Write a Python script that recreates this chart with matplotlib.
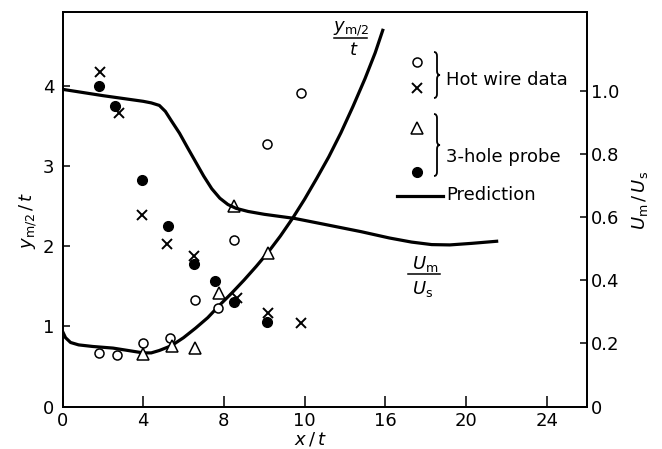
import matplotlib
matplotlib.use("Agg")
import matplotlib.pyplot as plt
from matplotlib.path import Path
from matplotlib.patches import PathPatch
from matplotlib.lines import Line2D

# ---------------- data ----------------
# Hot wire data, y_m/2 / t (open circles)
hw_circ_x = [1.83, 2.72, 4.01, 5.31, 6.58, 7.71, 8.52, 10.14, 11.8]
hw_circ_y = [0.67, 0.64, 0.79, 0.85, 1.33, 1.23, 2.08, 3.28, 3.92]
# Hot wire data, U_m/U_s (crosses) plotted on left scale (4 <-> 1.0)
hw_cross_x = [1.86, 2.82, 3.93, 5.18, 6.50, 8.65, 10.17, 11.83]
hw_cross_y = [4.18, 3.67, 2.39, 2.03, 1.88, 1.36, 1.17, 1.04]
# 3-hole probe, y_m/2 / t (open triangles)
hp_tri_x = [4.01, 5.42, 6.55, 7.74, 8.49, 10.17]
hp_tri_y = [0.65, 0.75, 0.73, 1.42, 2.50, 1.92]
# 3-hole probe, U_m/U_s (filled dots) on left scale
hp_dot_x = [1.83, 2.61, 3.93, 5.21, 6.50, 7.58, 8.49, 10.14]
hp_dot_y = [4.00, 3.76, 2.83, 2.25, 1.78, 1.57, 1.30, 1.05]

# Prediction y_m/2 / t
pred_y_x = [0.0, 0.15, 0.4, 0.8, 1.5, 2.5, 3.5, 4.0, 4.4, 4.8, 5.4, 6.0, 6.6, 7.2, 7.8, 8.4,
            9.0, 9.6, 10.2, 10.8, 11.4, 12.0, 12.6, 13.2, 13.8, 14.4, 15.0, 15.5, 15.9]
pred_y_v = [0.94, 0.86, 0.80, 0.77, 0.75, 0.73, 0.69, 0.67, 0.67, 0.70, 0.76, 0.86, 0.98, 1.11,
            1.27, 1.42, 1.58, 1.75, 1.93, 2.13, 2.35, 2.59, 2.85, 3.12, 3.42, 3.75, 4.10, 4.42, 4.72]
# Prediction U_m / U_s
pred_u_x = [0.0, 2.0, 4.0, 4.4, 4.8, 5.1, 5.4, 5.8, 6.2, 6.6, 7.0, 7.4, 7.8, 8.2, 8.6, 9.2,
            10.0, 11.5, 13.0, 14.8, 16.2, 17.3, 18.3, 19.2, 20.3, 21.6]
pred_u_v = [1.005, 0.985, 0.967, 0.962, 0.954, 0.935, 0.905, 0.866, 0.82, 0.775, 0.73, 0.69,
            0.66, 0.64, 0.628, 0.618, 0.609, 0.596, 0.577, 0.554, 0.534, 0.521, 0.513, 0.512,
            0.517, 0.524]

x_ticks = [0, 4, 8, 12, 16, 20, 24]
x_ticklabels = ["0", "4", "8", "10", "16", "20", "24"]
yl_ticks = [0, 1, 2, 3, 4]
yr_ticks = [0, 0.2, 0.4, 0.6, 0.8, 1.0]
yr_ticklabels = ["0", "0.2", "0.4", "0.6", "0.8", "1.0"]

# ---------------- figure ----------------
W, H = 662, 449
fig = plt.figure(figsize=(W / 100, H / 100), dpi=100)

def fx(px):
    return px / W

def fy(py):
    return 1 - py / H

L, R, T, B = 62.5, 587, 12, 406.5
ax = fig.add_axes([fx(L), fy(B), (R - L) / W, (B - T) / H])
ax2 = ax.twinx()

ax.set_xlim(0, 26)
ax.set_ylim(0, 4.93)
ax2.set_ylim(0, 1.25)

lw = 2.3
ax.plot(pred_y_x, pred_y_v, color="black", lw=lw, solid_capstyle="butt", solid_joinstyle="round")
ax2.plot(pred_u_x, pred_u_v, color="black", lw=lw, solid_capstyle="butt", solid_joinstyle="round")

mew = 1.1
ax.plot(hw_circ_x, hw_circ_y, "o", ms=6.5, mfc="white", mec="black", mew=mew, zorder=5)
ax.plot(hw_cross_x, hw_cross_y, "x", ms=6.5, mec="black", mew=1.4, zorder=5)
ax.plot(hp_tri_x, hp_tri_y, "^", ms=8, mfc="white", mec="black", mew=mew, zorder=5)
ax.plot(hp_dot_x, hp_dot_y, "o", ms=7, mfc="black", mec="black", zorder=5)

fs = 13
ax.set_xticks(x_ticks)
ax.set_xticklabels(x_ticklabels, fontsize=fs)
ax.set_yticks(yl_ticks)
ax.set_yticklabels([str(t) for t in yl_ticks], fontsize=fs)
ax2.set_yticks(yr_ticks)
ax2.set_yticklabels(yr_ticklabels, fontsize=fs)

ax.tick_params(axis="x", direction="in", length=8, width=1.1, pad=4)
ax.tick_params(axis="y", direction="in", length=5, width=1.1, pad=6)
ax2.tick_params(axis="y", direction="in", length=5, width=1.1, pad=3)
for a in (ax, ax2):
    for s in a.spines.values():
        s.set_linewidth(1.3)

fig.text(fx(28), fy(220), r"$y_{\mathrm{m}/2}\,/\,t$", rotation=90, fontsize=fs,
         ha="center", va="center")
fig.text(fx(640), fy(200), r"$U_{\mathrm{m}}\,/\,U_{\mathrm{s}}$", rotation=90, fontsize=fs,
         ha="center", va="center")
fig.text(fx(310), fy(439), r"$x\,/\,t$", fontsize=fs, ha="center", va="center")

# curve labels (fractions)
fig.text(fx(351), fy(29), r"$y_{\mathrm{m}/2}$", fontsize=fs, ha="center", va="center")
fig.add_artist(Line2D([fx(334), fx(367)], [fy(37.5), fy(37.5)], color="black", lw=1.1))
fig.text(fx(354), fy(50), r"$t$", fontsize=fs, ha="center", va="center")

fig.text(fx(425), fy(264), r"$U_{\mathrm{m}}$", fontsize=fs, ha="center", va="center")
fig.add_artist(Line2D([fx(408), fx(440)], [fy(274), fy(274)], color="black", lw=1.1))
fig.text(fx(423), fy(289), r"$U_{\mathrm{s}}$", fontsize=fs, ha="center", va="center")

# ---------------- legend ----------------
lx = 417
fig.add_artist(Line2D([fx(lx)], [fy(62)], marker="o", ms=6.5, mfc="white", mec="black", mew=mew))
fig.add_artist(Line2D([fx(lx)], [fy(88)], marker="x", ms=6.5, mec="black", mew=1.4))
fig.add_artist(Line2D([fx(lx)], [fy(128)], marker="^", ms=8, mfc="white", mec="black", mew=mew))
fig.add_artist(Line2D([fx(lx)], [fy(172)], marker="o", ms=7, mfc="black", mec="black"))

def brace(x, y0, y1, w=6, r=4):
    ym = (y0 + y1) / 2
    pts = [(x, y0), (x + w / 2, y0), (x + w / 2, y0 + r),
           (x + w / 2, ym - r),
           (x + w / 2, ym), (x + w, ym),
           (x + w / 2, ym), (x + w / 2, ym + r),
           (x + w / 2, y1 - r),
           (x + w / 2, y1), (x, y1)]
    codes = [Path.MOVETO, Path.CURVE3, Path.CURVE3, Path.LINETO,
             Path.CURVE3, Path.CURVE3, Path.CURVE3, Path.CURVE3,
             Path.LINETO, Path.CURVE3, Path.CURVE3]
    verts = [(fx(px), fy(py)) for px, py in pts]
    fig.add_artist(PathPatch(Path(verts, codes), transform=fig.transFigure,
                             fill=False, lw=1.3, color="black"))

brace(434, 52, 98)
brace(434, 114, 176)
fig.text(fx(446), fy(80), "Hot wire data", fontsize=fs, ha="left", va="center")
fig.text(fx(446), fy(157), "3-hole probe", fontsize=fs, ha="left", va="center")
fig.add_artist(Line2D([fx(397), fx(443)], [fy(196), fy(196)], color="black", lw=lw))
fig.text(fx(446), fy(195), "Prediction", fontsize=fs, ha="left", va="center")

fig.savefig("out.png", dpi=100)
